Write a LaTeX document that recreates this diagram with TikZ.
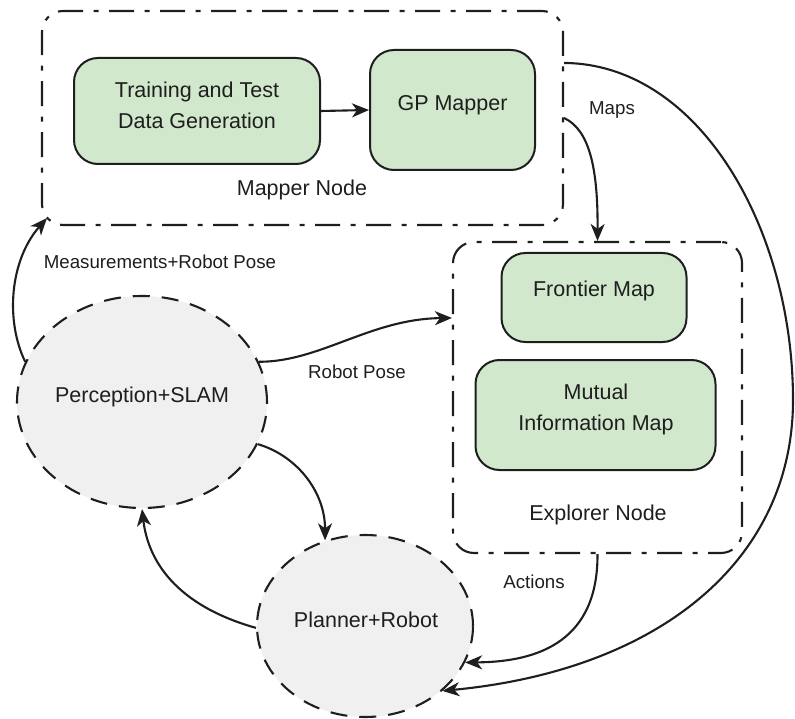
\documentclass[tikz,border=0pt]{standalone}
\usepackage{fontspec}
\setmainfont{Liberation Sans}
\usetikzlibrary{shapes.geometric,arrows.meta,calc}
\definecolor{boxgreen}{RGB}{209,232,204}
\definecolor{cellgray}{RGB}{239,240,239}
\definecolor{ink}{RGB}{30,30,30}
\begin{document}
\begin{tikzpicture}[x=1pt,y=-1pt,
  container/.style={draw=ink, line width=2.1pt, rounded corners=21pt,
    dash pattern=on 25pt off 10.5pt on 5pt off 10.5pt, inner sep=0pt},
  modulebox/.style={draw=ink, fill=boxgreen, line width=2pt,
    rounded corners=24pt, inner sep=0pt},
  procnode/.style={ellipse, draw=ink, fill=cellgray, line width=2.1pt,
    dash pattern=on 17pt off 12pt, inner sep=0pt},
  boxtext/.style={text=ink, font=\fontsize{21.5}{31}\selectfont,
    align=center, inner sep=0pt},
  edgetext/.style={text=ink, font=\fontsize{18.7}{22}\selectfont, inner sep=0pt},
  flow/.style={draw=ink, line width=2.1pt,
    -{Stealth[length=17pt,width=14pt,inset=5pt]}}]
\useasboundingbox (0,0) rectangle (795,719);

% ROS nodes (dash-dot containers)
\node[container, minimum width=521pt, minimum height=214pt] (mapper) at (302.5,118) {};
\node[container, minimum width=289pt, minimum height=311pt] (explorer) at (597.5,397.5) {};

% modules inside the containers
\node[modulebox, minimum width=246pt, minimum height=106pt] (datagen) at (197,111) {};
\node[modulebox, minimum width=165pt, minimum height=120pt] (gp) at (452.5,110) {};
\node[modulebox, minimum width=185pt, minimum height=89pt] (frontier) at (594,297.5) {};
\node[modulebox, minimum width=240pt, minimum height=110pt] (mutual) at (595.5,415) {};

% perception and planning processes
\node[procnode, minimum width=250pt, minimum height=212pt] (perc) at (142,402) {};
\node[procnode, minimum width=216pt, minimum height=182pt] (planner) at (365,626) {};

% texts
\node[boxtext] (datagentext) at (197,105) {Training and Test\\Data Generation};
\node[boxtext] (gptext) at (452.5,105) {GP Mapper};
\node[boxtext] (frontiertext) at (594,291) {Frontier Map};
\node[boxtext] (mutualtext) at (596,409) {Mutual\\Information Map};
\node[boxtext] (mappertext) at (302,190) {Mapper Node};
\node[boxtext] (explorertext) at (598,515) {Explorer Node};
\node[boxtext] (perctext) at (142,397) {Perception+SLAM};
\node[boxtext] (plannertext) at (366,620) {Planner+Robot};

\node[edgetext] (measlbl) at (160,262) {Measurements+Robot Pose};
\node[edgetext] (poselbl) at (357,372) {Robot Pose};
\node[edgetext] (mapslbl) at (612,110) {Maps};
\node[edgetext] (actlbl) at (534,582) {Actions};

% connectors
\coordinate (mapin) at ($(mapper.south west)+(6,-8)$);
\coordinate (mapout) at ($(mapper.north east)+(0,53)$);
\coordinate (explin) at ($(explorer.north west)+(0,77)$);
\coordinate (swing) at (793,400);

\draw[flow] (datagen.east) -- (gp.west);
\draw[flow] (perc.161) .. controls (5,320) and (10,260) .. (mapin);
\draw[flow] (perc.19) .. controls (320,362) and (370,319) .. (explin);
\draw[flow] (perc.340) .. controls (295,455) and (325,490) .. (planner.115);
\draw[flow] (planner.181) .. controls (175,605) and (148,560) .. (perc.south);
\draw[flow] (mapper.east) .. controls (590,130) and (598,170) .. (explorer.north);
\draw[flow] (explorer.south) .. controls (598,640) and (540,662) .. (planner.340);
\draw[flow] (mapout) .. controls (700,64) and (793,230) .. (swing)
  .. controls (793,560) and (660,670) .. (planner.320);
\end{tikzpicture}
\end{document}
